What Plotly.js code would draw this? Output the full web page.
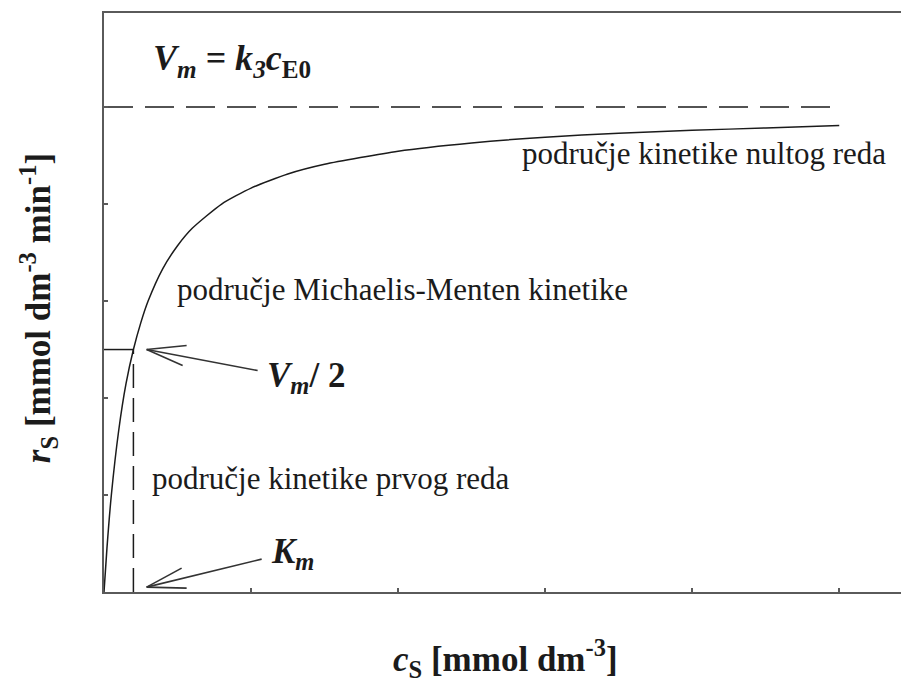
<!DOCTYPE html>
<html>
<head>
<meta charset="utf-8">
<script src="https://cdn.plot.ly/plotly-3.0.1.min.js"></script>
<style>
  html, body { margin: 0; padding: 0; background: #fff; }
  #chart { width: 901px; height: 679px; }
</style>
</head>
<body>
<div id="chart"></div>
<script>
// Michaelis-Menten krivulja: r_S u ovisnosti o c_S
const cS = [0, 0.02, 0.05, 0.1, 0.15, 0.2, 0.25, 0.3, 0.4, 0.5, 0.6, 0.8, 1.0, 1.25, 1.5, 2.0, 2.5, 3.0, 3.5, 4.0, 4.5, 5.0];
const rS = [0, 0.09, 0.2, 0.333, 0.43, 0.5, 0.555, 0.6, 0.667, 0.714, 0.75, 0.8, 0.833, 0.862, 0.882, 0.909, 0.926, 0.938, 0.946, 0.952, 0.957, 0.962];
const VM = 1.0;      // V_m
const KM = 0.2;      // K_m
const VM_LINE_END = 5.0;

const INK = '#1b1b1b';
const FONT = 'Liberation Serif, Times New Roman, serif';

const traces = [
  {
    x: cS, y: rS, type: 'scatter', mode: 'lines',
    line: { color: INK, width: 1.5, shape: 'spline', smoothing: 0.6 },
    hoverinfo: 'skip',
  },
  { // V_m asimptota
    x: [0, VM_LINE_END], y: [VM, VM], type: 'scatter', mode: 'lines',
    line: { color: INK, width: 1.5, dash: '29px,12px' }, hoverinfo: 'skip',
  },
  { // V_m/2 vodoravno
    x: [0, KM], y: [VM / 2, VM / 2], type: 'scatter', mode: 'lines',
    line: { color: INK, width: 1.5 }, hoverinfo: 'skip',
  },
  { // K_m okomito
    x: [KM, KM], y: [0, VM / 2], type: 'scatter', mode: 'lines',
    line: { color: INK, width: 1.5, dash: '24px,10px' }, hoverinfo: 'skip',
  },
];

// strelica: vrh u podacima, krak i krilca u pikselima
function arrow(x, y, tail, wings) {
  const base = {
    type: 'line', xref: 'x', yref: 'y',
    xsizemode: 'pixel', ysizemode: 'pixel', xanchor: x, yanchor: y,
    line: { color: '#333', width: 1.6 },
  };
  return [tail, ...wings].map(p => ({ ...base, x0: 0, y0: 0, x1: p[0], y1: p[1] }));
}

const shapes = [
  ...arrow(0.29, VM / 2, [111, -21], [[40, 4], [36, -16]]),
  ...arrow(0.29, 0.01, [115, 28], [[35, 19], [40, -1]]),
];

function label(text, x, y, size, extra) {
  return {
    text, x, y, xref: 'x', yref: 'y', xanchor: 'left', yanchor: 'middle',
    showarrow: false, font: { family: FONT, size, color: INK }, ...extra,
  };
}

const annotations = [
  label('<b><i>V<sub>m</sub> = k<sub>3</sub>c</i><sub>E0</sub></b>', 0.32, 1.097, 36),
  label('područje kinetike nultog reda', 2.83, 0.905, 31),
  label('područje Michaelis-Menten kinetike', 0.48, 0.624, 31),
  label('<b><i>V<sub>m</sub></i>/ 2</b>', 1.095, 0.443, 35),
  label('područje kinetike prvog reda', 0.31, 0.235, 31),
  label('<b><i>K<sub>m</sub></i></b>', 1.12, 0.08, 35),
  {
    text: '<b><i>r</i><sub>S</sub> [mmol dm<sup>-3</sup> min<sup>-1</sup>]</b>',
    xref: 'paper', yref: 'paper', x: -0.083, y: 0.49, textangle: -90,
    xanchor: 'center', yanchor: 'middle', showarrow: false,
    font: { family: FONT, size: 35, color: INK },
  },
  {
    text: '<b><i>c</i><sub>S</sub> [mmol dm<sup>-3</sup>]</b>',
    xref: 'paper', yref: 'paper', x: 0.504, y: -0.115,
    xanchor: 'center', yanchor: 'middle', showarrow: false,
    font: { family: FONT, size: 35, color: INK },
  },
];

const axisBase = {
  showline: true, linecolor: '#5a5a5a', linewidth: 2,
  showgrid: false, zeroline: false, showticklabels: false,
  ticks: 'inside', ticklen: 4, tickcolor: '#5a5a5a', tickwidth: 1.5,
  fixedrange: true,
};

const layout = {
  width: 901, height: 679,
  paper_bgcolor: '#fff', plot_bgcolor: '#fff',
  margin: { l: 104, r: 0, t: 13, b: 87 },
  showlegend: false,
  xaxis: { ...axisBase, range: [0, 5.42], dtick: 1, tick0: 0, mirror: true },
  yaxis: { ...axisBase, range: [0, 1.194], dtick: 0.2, tick0: 0 },
  shapes, annotations,
};

Plotly.newPlot('chart', traces, layout, { displayModeBar: false, staticPlot: true });
</script>
</body>
</html>
